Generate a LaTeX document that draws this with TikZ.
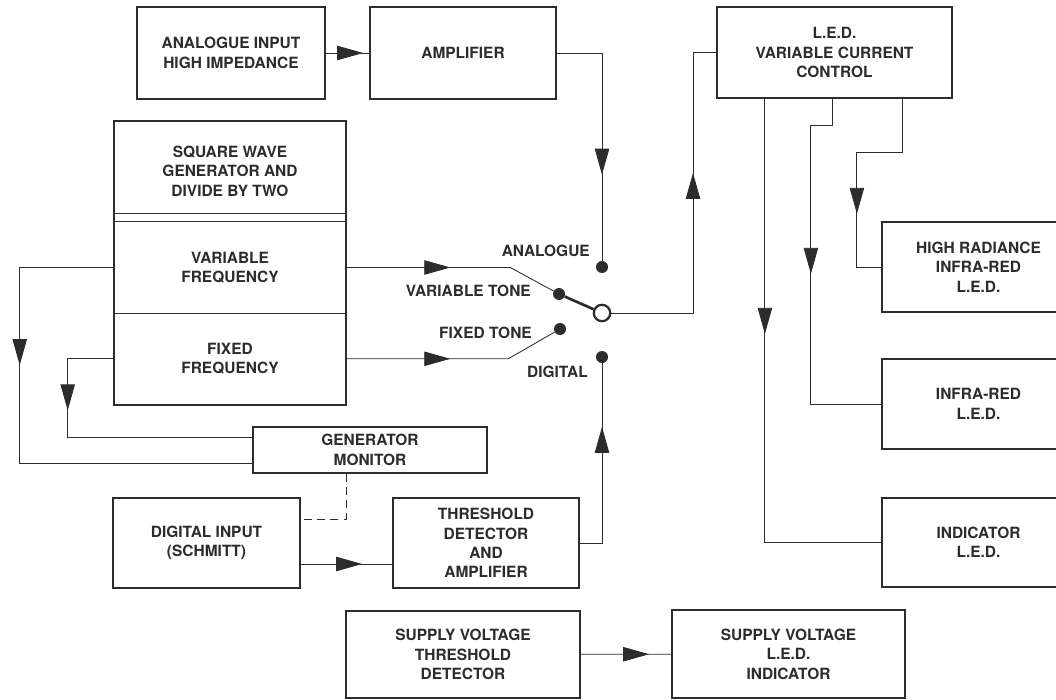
\documentclass[tikz,border=0pt]{standalone}
\usepackage{fontspec}
\setmainfont{TeX Gyre Heros}
\usetikzlibrary{arrows.meta,decorations.markings}
\definecolor{ink}{HTML}{2c2c2c}
\begin{document}
\begin{tikzpicture}[x=0.25mm, y=-0.25mm, color=ink,
  every node/.style={font=\bfseries\fontsize{11}{13.8}\selectfont, align=center, inner sep=0pt},
  box/.style 2 args={draw, line width=1.2pt, minimum width=#1, minimum height=#2},
  wire/.style={line width=0.6pt},
  arrowat/.style={postaction={decorate}, decoration={markings, mark=at position #1 with {\arrow{Triangle[length=6.5mm,width=3.6mm]}}}},
  dot/.style={circle, fill, minimum size=3mm},
  ring/.style={circle, draw, fill=white, line width=1.6pt, minimum size=4.1mm}]
\useasboundingbox (0,0) rectangle (1056,700);
\fill[white] (0,0) rectangle (1056,700);
\clip (0,0) rectangle (1056,700);
\node[box={47mm}{23mm}] (ain) at (231,53) {ANALOGUE INPUT\\HIGH IMPEDANCE};
\node[box={46.5mm}{23mm}] (amp) at (463,53) {AMPLIFIER};
\node[box={58.75mm}{22.75mm}] (led) at (834.5,52.5) {L.E.D.\\VARIABLE CURRENT\\CONTROL};
\node[minimum width=58mm, minimum height=23mm] (sqw) at (230,167) {\rule{0pt}{14pt}SQUARE WAVE\\GENERATOR AND\\DIVIDE BY TWO};
\node[minimum width=58mm, minimum height=22.75mm] (varf) at (230,267.5) {VARIABLE\\FREQUENCY};
\node[minimum width=58mm, minimum height=22.9mm] (fixf) at (230,358.8) {FIXED\\FREQUENCY};
\draw[line width=1.2pt] (sqw.north west) rectangle (fixf.south east);
\draw[wire] (sqw.south west) -- (sqw.south east);
\draw[wire] (varf.north west) -- (varf.north east);
\draw[wire] (varf.south west) -- (varf.south east);
\node[box={58.5mm}{11.5mm}] (gmon) at (370,450) {GENERATOR\\MONITOR};
\node[box={46.75mm}{22.5mm}] (din) at (206.5,543) {DIGITAL INPUT\\(SCHMITT)};
\node[box={46.5mm}{22.5mm}] (thr) at (486,543) {THRESHOLD\\DETECTOR\\AND\\AMPLIFIER};
\node[box={58.5mm}{21.75mm}] (svt) at (463,654.5) {SUPPLY VOLTAGE\\THRESHOLD\\DETECTOR};
\node[box={58.25mm}{22mm}] (svl) at (788.5,654) {SUPPLY VOLTAGE\\L.E.D.\\INDICATOR};
\node[box={48.25mm}{22.5mm}] (hr) at (978.5,267) {HIGH RADIANCE\\INFRA-RED\\L.E.D.};
\node[box={48.25mm}{22.5mm}] (ir) at (978.5,404) {INFRA-RED\\L.E.D.};
\node[box={48.25mm}{22.25mm}] (ind) at (978.5,542.5) {INDICATOR\\L.E.D.};
\node[dot] (dA) at (602,267) {};
\node[dot] (dV) at (559,294) {};
\node[ring] (sw) at (602,313) {};
\node[dot] (dF) at (560,329) {};
\node[dot] (dD) at (602,357) {};
\node[anchor=east] (lA) at (590,251) {ANALOGUE};
\node[anchor=east] (lV) at (531,291) {VARIABLE TONE};
\node[anchor=east] (lF) at (532,333) {FIXED TONE};
\node[anchor=east] (lD) at (588,372) {DIGITAL};
\draw[wire, arrowat=-1.5mm] (ain) -- (amp);
\draw[wire, arrowat=-21.5mm] (amp.east) -| (dA);
\draw[wire, arrowat=26mm] (varf.east) -- ++(164,0) -- (dV);
\draw[wire, arrowat=26mm] (fixf.east) -- ++(162,0) -- (dF);
\draw[line width=1.9pt] (dV) -- (sw);
\draw[wire, arrowat=-35.9mm] (sw) -- ++(91,0) |- (led.west);
\draw[wire, arrowat=58.75mm] ([xshift=-17.4mm]led.south) |- (ind.west);
\draw[wire, arrowat=49.25mm] ([xshift=-0.4mm]led.south) -- ++(0,27) -- ++(-22,0) |- (ir.west);
\draw[wire, arrowat=40.25mm] ([xshift=17.1mm]led.south) -- ++(0,54) -- ++(-46,0) |- (hr.west);
\draw[wire, arrowat=47.9mm] (varf.west) -- ++(-94,0) |- ([yshift=-3.25mm]gmon.west);
\draw[wire, arrowat=24.4mm] (fixf.west) -- ++(-46,0) |- ([yshift=3.25mm]gmon.west);
\draw[wire, dash pattern=on 2mm off 1.3mm] ([xshift=-6mm]gmon.south) |- ([yshift=6mm]din.east);
\draw[wire, arrowat=-7.5mm] ([yshift=-5.25mm]din.east) -- ([yshift=-5.25mm]thr.west);
\draw[wire, arrowat=-15.9mm] (thr.east) -| (dD);
\draw[wire, arrowat=-5.5mm] (svt) -- (svl);
\end{tikzpicture}
\end{document}
